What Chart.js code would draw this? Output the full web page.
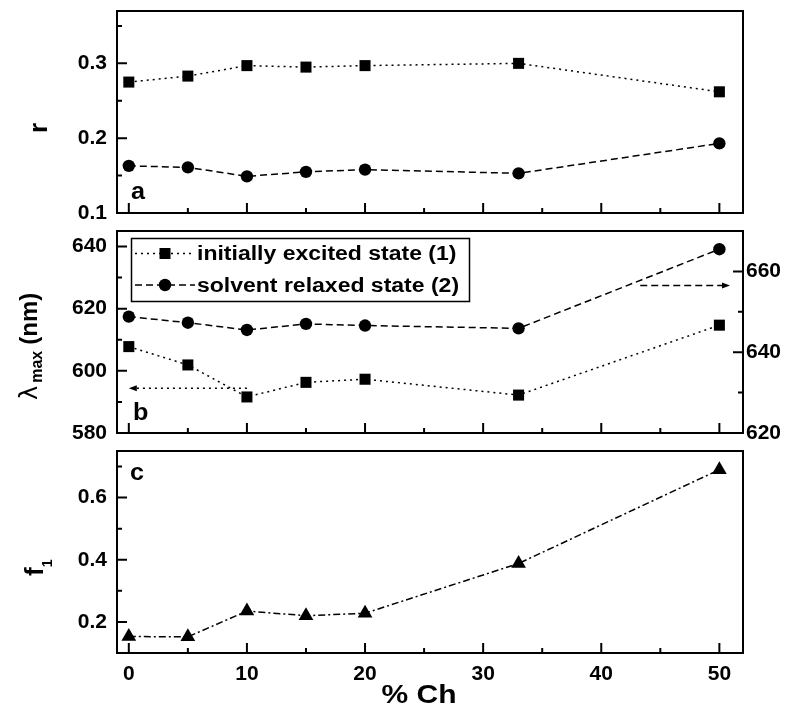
<!DOCTYPE html>
<html>
<head>
<meta charset="utf-8">
<script src="https://cdn.jsdelivr.net/npm/chart.js@4.4.1/dist/chart.umd.min.js"></script>
<style>
  html, body { margin: 0; padding: 0; background: #fff; }
  #wrap { position: relative; width: 793px; height: 711px; }
  #wrap canvas { position: absolute; left: 0; top: 0; }
</style>
</head>
<body>
<div id="wrap">
  <canvas id="panelA" width="793" height="711"></canvas>
  <canvas id="panelB" width="793" height="711"></canvas>
  <canvas id="panelC" width="793" height="711"></canvas>
</div>
<script>
// x values (% Ch) shared by all three panels
const chPercent = [0, 5, 10, 15, 20, 33, 50];

// panel a: anisotropy r
const rExcited = [0.275, 0.283, 0.297, 0.295, 0.297, 0.300, 0.262];
const rRelaxed = [0.163, 0.161, 0.149, 0.155, 0.158, 0.153, 0.193];

// panel b: lambda max (nm), excited on left axis, relaxed on right axis
const lambdaExcited = [607.8, 601.9, 591.6, 596.3, 597.3, 592.2, 614.7];
const lambdaRelaxed = [648.8, 647.3, 645.5, 647.0, 646.6, 645.9, 665.5];

// panel c: f1
const f1Values = [0.153, 0.152, 0.235, 0.220, 0.228, 0.388, 0.690];

// tick labels
const xTicks = [0, 10, 20, 30, 40, 50];
const rTicks = [0.1, 0.2, 0.3];
const lambdaLeftTicks = [580, 600, 620, 640];
const lambdaRightTicks = [620, 640, 660];
const f1Ticks = [0.2, 0.4, 0.6];

const legendLabels = ['initially excited state (1)', 'solvent relaxed state (2)'];

// arrows in panel b (data units: x from, x to, axis value)
const excitedArrow = [10, 0, 594.4];
const relaxedArrow = [43.3, 50.9, 656.5];

const FONT = '"Liberation Sans", Arial, sans-serif';
const tickFont = { family: FONT, size: 21, weight: 'bold' };

function xy(vals) {
  return chPercent.map((x, i) => ({ x: x, y: vals[i] }));
}

function minorValues(major, min, max) {
  const step = major[1] - major[0];
  const out = major.map(v => v - step / 2);
  out.push(major[major.length - 1] + step / 2);
  return out.filter(v => v > min + 1e-9 && v < max - 1e-9);
}

function xAxis(showLabels) {
  return {
    type: 'linear', position: 'bottom', min: -1, max: 52, bounds: 'data',
    grid: { display: false, drawTicks: false }, border: { display: false },
    afterBuildTicks: s => { s.ticks = xTicks.map(v => ({ value: v })); },
    ticks: { display: showLabels, color: '#000', padding: 9, maxRotation: 0, autoSkip: false, font: tickFont },
    afterFit: s => {
      s.height = showLabels ? 58 : 0;
      s.paddingLeft = 0; s.paddingRight = 0;
    }
  };
}

function yAxis(position, min, max, ticks, decimals, width, pad) {
  return {
    type: 'linear', position: position, min: min, max: max, bounds: 'data',
    grid: { display: false, drawTicks: false }, border: { display: false },
    afterBuildTicks: s => { s.ticks = ticks.map(v => ({ value: v })); },
    ticks: { color: '#000', padding: pad, font: tickFont, callback: v => v.toFixed(decimals) },
    afterFit: s => {
      s.width = width;
      s.paddingTop = 0; s.paddingBottom = 0; s.paddingLeft = 0; s.paddingRight = 0;
    }
  };
}

function addTicks(ctx, scale, major, edge, dir, horizontal) {
  const minor = minorValues(major, scale.min, scale.max);
  [[major, 10], [minor, 5]].forEach(([vals, len]) => {
    vals.forEach(v => {
      const p = scale.getPixelForValue(v);
      if (horizontal) { ctx.moveTo(p, edge); ctx.lineTo(p, edge + dir * len); }
      else { ctx.moveTo(edge, p); ctx.lineTo(edge + dir * len, p); }
    });
  });
}

function drawFrame(chart, leftTicks, rightTicks) {
  const ctx = chart.ctx;
  const a = chart.chartArea;
  ctx.save();
  ctx.strokeStyle = '#000';
  ctx.lineWidth = 2;
  ctx.setLineDash([]);
  ctx.beginPath();
  ctx.rect(a.left, a.top, a.right - a.left, a.bottom - a.top);
  addTicks(ctx, chart.scales.x, xTicks, a.bottom, -1, true);
  addTicks(ctx, chart.scales.y, leftTicks, a.left, 1, false);
  if (rightTicks) addTicks(ctx, chart.scales.y2, rightTicks, a.right, -1, false);
  ctx.stroke();
  ctx.restore();
}

function rotatedParts(ctx, x, y, parts) {
  ctx.save();
  ctx.translate(x, y);
  ctx.rotate(-Math.PI / 2);
  ctx.fillStyle = '#000';
  ctx.textAlign = 'left';
  ctx.textBaseline = 'alphabetic';
  let cx = 0;
  parts.forEach(p => {
    ctx.font = p.font;
    ctx.fillText(p.text, cx, p.shift || 0);
    cx += ctx.measureText(p.text).width + (p.gap || 0);
  });
  ctx.restore();
}

function stretchedText(ctx, text, x, y, font, sx, align, baseline) {
  ctx.save();
  ctx.translate(x, y);
  ctx.scale(sx, 1);
  ctx.font = font;
  ctx.fillStyle = '#000';
  ctx.textAlign = align;
  ctx.textBaseline = baseline;
  ctx.fillText(text, 0, 0);
  ctx.restore();
}

function drawArrow(ctx, x1, y1, x2, y2, dash) {
  const dir = Math.sign(x2 - x1);
  ctx.save();
  ctx.strokeStyle = '#000';
  ctx.fillStyle = '#000';
  ctx.lineWidth = 1.5;
  ctx.setLineDash(dash);
  ctx.beginPath();
  ctx.moveTo(x1, y1);
  ctx.lineTo(x2 - dir * 6, y2);
  ctx.stroke();
  ctx.setLineDash([]);
  ctx.beginPath();
  ctx.moveTo(x2, y2);
  ctx.lineTo(x2 - dir * 8, y2 - 3);
  ctx.lineTo(x2 - dir * 8, y2 + 3);
  ctx.closePath();
  ctx.fill();
  ctx.restore();
}

const dotted = [2, 4];
const dashed = [7, 4];
const dashDot = [7, 3, 2, 3];

function lineSet(data, yAxisID, style, radius, dash) {
  return {
    data: data, yAxisID: yAxisID,
    borderColor: '#000', backgroundColor: '#000',
    borderWidth: 1.5, borderDash: dash,
    pointStyle: style, pointRadius: radius, pointBorderWidth: 0,
    pointBackgroundColor: '#000', pointBorderColor: '#000',
    tension: 0, fill: false
  };
}

function baseOptions(padding, scales) {
  return {
    responsive: false, animation: false, devicePixelRatio: 1,
    layout: { padding: padding },
    plugins: { legend: { display: false }, tooltip: { enabled: false } },
    scales: scales
  };
}

// panel a
new Chart(document.getElementById('panelA'), {
  type: 'line',
  data: {
    datasets: [
      lineSet(xy(rExcited), 'y', 'rect', 7.8, dotted),
      lineSet(xy(rRelaxed), 'y', 'circle', 6.2, dashed)
    ]
  },
  options: baseOptions({ left: 0, right: 50, top: 11, bottom: 498 }, {
    x: xAxis(false),
    y: yAxis('left', 0.1, 0.37, rTicks, 1, 117, 10)
  }),
  plugins: [{
    id: 'decorA',
    afterDraw: chart => {
      const ctx = chart.ctx;
      drawFrame(chart, rTicks, null);
      rotatedParts(ctx, 47, 133, [{ text: 'r', font: 'bold 26px ' + FONT }]);
      stretchedText(ctx, 'a', 131, 199, 'bold 24px ' + FONT, 1.05, 'left', 'alphabetic');
    }
  }]
});

// panel b
new Chart(document.getElementById('panelB'), {
  type: 'line',
  data: {
    datasets: [
      lineSet(xy(lambdaExcited), 'y', 'rect', 7.8, dotted),
      lineSet(xy(lambdaRelaxed), 'y2', 'circle', 6.2, dashed)
    ]
  },
  options: baseOptions({ left: 0, right: 0, top: 231, bottom: 278 }, {
    x: xAxis(false),
    y: yAxis('left', 580, 645, lambdaLeftTicks, 0, 117, 10),
    y2: yAxis('right', 620, 670, lambdaRightTicks, 0, 50, 3)
  }),
  plugins: [{
    id: 'decorB',
    afterDraw: chart => {
      const ctx = chart.ctx;
      const xs = chart.scales.x, yl = chart.scales.y, yr = chart.scales.y2;
      drawFrame(chart, lambdaLeftTicks, lambdaRightTicks);

      drawArrow(ctx, xs.getPixelForValue(excitedArrow[0]), yl.getPixelForValue(excitedArrow[2]),
        xs.getPixelForValue(excitedArrow[1]), yl.getPixelForValue(excitedArrow[2]), dotted);
      drawArrow(ctx, xs.getPixelForValue(relaxedArrow[0]), yr.getPixelForValue(relaxedArrow[2]),
        xs.getPixelForValue(relaxedArrow[1]), yr.getPixelForValue(relaxedArrow[2]), dashed);

      // legend
      ctx.save();
      ctx.fillStyle = '#fff';
      ctx.fillRect(132, 239, 337, 62);
      ctx.strokeStyle = '#000';
      ctx.lineWidth = 1.5;
      ctx.strokeRect(131.5, 238.5, 338, 63);
      const rows = [253.5, 285];
      rows.forEach((ry, i) => {
        ctx.setLineDash(i === 0 ? dotted : dashed);
        ctx.beginPath();
        ctx.moveTo(135, ry);
        ctx.lineTo(195, ry);
        ctx.stroke();
        ctx.setLineDash([]);
        ctx.fillStyle = '#000';
        ctx.beginPath();
        if (i === 0) ctx.rect(159.5, ry - 5.5, 11, 11);
        else ctx.arc(165, ry, 6.2, 0, Math.PI * 2);
        ctx.fill();
        stretchedText(ctx, legendLabels[i], 197, ry + 1, 'bold 20px ' + FONT, 1.15, 'left', 'middle');
      });
      ctx.restore();

      rotatedParts(ctx, 37, 400, [
        { text: 'λ', font: '24px "DejaVu Sans"', gap: 3 },
        { text: 'max', font: 'bold 16px ' + FONT, shift: 5, gap: 6 },
        { text: '(nm)', font: 'bold 24px ' + FONT }
      ]);
      stretchedText(ctx, 'b', 133, 420, 'bold 24px ' + FONT, 1.05, 'left', 'alphabetic');
    }
  }]
});

// panel c
new Chart(document.getElementById('panelC'), {
  type: 'line',
  data: {
    datasets: [
      lineSet(xy(f1Values), 'y', 'triangle', 8.5, dashDot)
    ]
  },
  options: baseOptions({ left: 0, right: 50, top: 451, bottom: 0 }, {
    x: xAxis(true),
    y: yAxis('left', 0.1, 0.75, f1Ticks, 1, 117, 10)
  }),
  plugins: [{
    id: 'decorC',
    afterDraw: chart => {
      const ctx = chart.ctx;
      drawFrame(chart, f1Ticks, null);
      rotatedParts(ctx, 43, 576, [
        { text: 'f', font: 'bold 26px ' + FONT, gap: 0 },
        { text: '1', font: 'bold 14px ' + FONT, shift: 9 }
      ]);
      stretchedText(ctx, 'c', 130, 480, 'bold 24px ' + FONT, 1.05, 'left', 'alphabetic');
      stretchedText(ctx, '% Ch', 419, 703, 'bold 25px ' + FONT, 1.2, 'center', 'alphabetic');
    }
  }]
});
</script>
</body>
</html>
